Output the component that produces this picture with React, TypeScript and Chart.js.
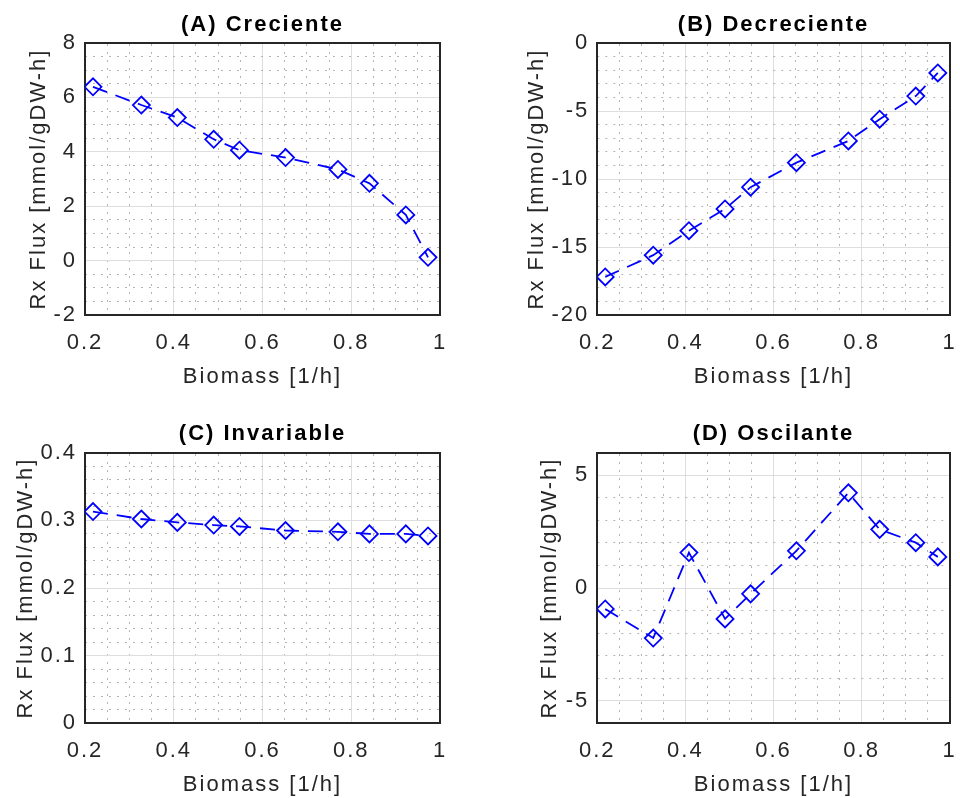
import React, { useEffect, useRef } from "react";
import { Chart, registerables } from "chart.js";

Chart.register(...registerables);

// ---------------- data ----------------
const biomass = [0.218, 0.327, 0.408, 0.49, 0.548, 0.652, 0.77, 0.841, 0.923, 0.973];
const fluxCreciente = [6.39, 5.72, 5.26, 4.46, 4.06, 3.79, 3.35, 2.84, 1.68, 0.12];
const fluxDecreciente = [-17.2, -15.6, -13.8, -12.2, -10.6, -8.8, -7.2, -5.6, -3.9, -2.2];
const fluxInvariable = [0.313, 0.302, 0.297, 0.293, 0.291, 0.285, 0.283, 0.28, 0.28, 0.277];
const fluxOscilante = [-0.93, -2.22, 1.57, -1.37, -0.26, 1.65, 4.22, 2.6, 2.01, 1.38];

const panelTitles = ["(A) Creciente", "(B) Decreciente", "(C) Invariable", "(D) Oscilante"];
const xTitle = "Biomass [1/h]";
const yTitle = "Rx Flux [mmol/gDW-h]";

const xRange = [0.2, 1];
const xTicks = [0.2, 0.4, 0.6, 0.8, 1];
const xMinorStep = 0.05;

const yRangeA = [-2, 8];
const yTicksA = [-2, 0, 2, 4, 6, 8];
const yMinorA = 0.5;
const yRangeB = [-20, 0];
const yTicksB = [-20, -15, -10, -5, 0];
const yMinorB = 1;
const yRangeC = [0, 0.4];
const yTicksC = [0, 0.1, 0.2, 0.3, 0.4];
const yMinorC = 0.02;
const yRangeD = [-6, 6];
const yTicksD = [-5, 0, 5];
const yMinorD = 1;

// ---------------- style ----------------
const FONT = '"Liberation Sans", Arial, Helvetica, sans-serif';
const FS = 22;
const LETTER_SPACING = "2px";
const AXIS_COLOR = "#262626";
const MAJOR_GRID = "#dedede";
const MINOR_GRID = "#b4b4b4";
const LINE_BLUE = "#0000ff";

type Layout = {
  left: number; top: number; w: number; h: number;
  padRight: number; yWidth: number; xHeight: number;
  titleTop: number; titleBottom: number;
  yTitlePad: number; xTitlePadBottom: number;
};

const layouts: Layout[] = [
  { left: 0, top: 0, w: 480, h: 400, padRight: 40, yWidth: 85, xHeight: 85, titleTop: 11.8, titleBottom: 4.8, yTitlePad: 25.3, xTitlePadBottom: 9.8 },
  { left: 480, top: 0, w: 480, h: 400, padRight: 8.3, yWidth: 117.3, xHeight: 85, titleTop: 11.8, titleBottom: 4.8, yTitlePad: 43.5, xTitlePadBottom: 9.8 },
  { left: 0, top: 400, w: 480, h: 398, padRight: 40, yWidth: 85, xHeight: 74.7, titleTop: 20.3, titleBottom: 6, yTitlePad: 12.5, xTitlePadBottom: 0 },
  { left: 480, top: 400, w: 480, h: 398, padRight: 8.3, yWidth: 117.3, xHeight: 74.7, titleTop: 20.3, titleBottom: 6, yTitlePad: 56.8, xTitlePadBottom: 0 },
];

type Spec = {
  title: string;
  values: number[];
  yRange: number[];
  yTicks: number[];
  yMinor: number;
  layout: Layout;
};

const specs: Spec[] = [
  { title: panelTitles[0], values: fluxCreciente, yRange: yRangeA, yTicks: yTicksA, yMinor: yMinorA, layout: layouts[0] },
  { title: panelTitles[1], values: fluxDecreciente, yRange: yRangeB, yTicks: yTicksB, yMinor: yMinorB, layout: layouts[1] },
  { title: panelTitles[2], values: fluxInvariable, yRange: yRangeC, yTicks: yTicksC, yMinor: yMinorC, layout: layouts[2] },
  { title: panelTitles[3], values: fluxOscilante, yRange: yRangeD, yTicks: yTicksD, yMinor: yMinorD, layout: layouts[3] },
];

const spacingPlugin = {
  id: "letterSpacing",
  beforeDraw(chart: any) {
    try {
      chart.ctx.letterSpacing = LETTER_SPACING;
    } catch (e) {}
  },
};

function isOnList(v: number | undefined, list: number[]) {
  if (v === undefined || v === null) return false;
  return list.some((t) => Math.abs(t - v) < 1e-9);
}

const fmt = (v: number) => String(Math.round(v * 1000) / 1000);

function buildConfig(spec: Spec): any {
  const L = spec.layout;
  const tickFont = { family: FONT, size: FS, lineHeight: 1.2 };
  return {
    type: "line",
    data: {
      datasets: [
        {
          data: biomass.map((x, i) => ({ x, y: spec.values[i] })),
          borderColor: LINE_BLUE,
          borderWidth: 1.8,
          borderDash: [15, 9],
          pointStyle: "rectRot",
          pointRadius: 8.5,
          pointBorderWidth: 1.8,
          pointBorderColor: LINE_BLUE,
          pointBackgroundColor: "rgba(0,0,0,0)",
          fill: false,
          tension: 0,
        },
      ],
    },
    options: {
      responsive: false,
      animation: false,
      devicePixelRatio: 1,
      layout: { padding: { left: 0, right: L.padRight, top: 0, bottom: 0 } },
      plugins: {
        legend: { display: false },
        tooltip: { enabled: false },
        title: {
          display: true,
          text: spec.title,
          fullSize: false,
          color: "#000000",
          font: { family: FONT, size: FS, weight: "bold", lineHeight: 1.2 },
          padding: { top: L.titleTop, bottom: L.titleBottom },
        },
      },
      scales: {
        x: {
          type: "linear",
          axis: "x",
          position: "bottom",
          min: xRange[0],
          max: xRange[1],
          afterBuildTicks: (s: any) => {
            s.ticks = xTicks.map((v) => ({ value: v }));
          },
          ticks: {
            font: tickFont,
            color: AXIS_COLOR,
            padding: 14.3,
            autoSkip: false,
            maxRotation: 0,
            minRotation: 0,
            callback: (v: number) => fmt(v),
          },
          grid: { color: MAJOR_GRID, lineWidth: 1, drawTicks: false },
          border: { display: true, color: AXIS_COLOR, width: 2 },
          title: {
            display: true,
            text: xTitle,
            color: AXIS_COLOR,
            font: tickFont,
            padding: { top: 0, bottom: L.xTitlePadBottom },
          },
          afterFit: (s: any) => {
            s.height = L.xHeight;
            s.paddingLeft = 0;
            s.paddingRight = 0;
          },
        },
        xMinor: {
          type: "linear",
          axis: "x",
          position: "top",
          min: xRange[0],
          max: xRange[1],
          ticks: { display: false, stepSize: xMinorStep, maxTicksLimit: 1000 },
          grid: {
            drawTicks: false,
            lineWidth: 1,
            color: (c: any) => (isOnList(c.tick?.value, xTicks) ? "rgba(0,0,0,0)" : MINOR_GRID),
          },
          border: { display: true, color: AXIS_COLOR, width: 2, dash: [2, 6] },
          afterFit: (s: any) => {
            s.height = 0;
            s.paddingLeft = 0;
            s.paddingRight = 0;
          },
        },
        y: {
          type: "linear",
          axis: "y",
          position: "left",
          min: spec.yRange[0],
          max: spec.yRange[1],
          afterBuildTicks: (s: any) => {
            s.ticks = spec.yTicks.map((v) => ({ value: v }));
          },
          ticks: { font: tickFont, color: AXIS_COLOR, padding: 8, callback: (v: number) => fmt(v) },
          grid: { color: MAJOR_GRID, lineWidth: 1, drawTicks: false },
          border: { display: true, color: AXIS_COLOR, width: 2 },
          title: {
            display: true,
            text: yTitle,
            color: AXIS_COLOR,
            font: tickFont,
            padding: { top: L.yTitlePad, bottom: 0 },
          },
          afterFit: (s: any) => {
            s.width = L.yWidth;
            s.paddingTop = 0;
            s.paddingBottom = 0;
          },
        },
        yMinor: {
          type: "linear",
          axis: "y",
          position: "right",
          min: spec.yRange[0],
          max: spec.yRange[1],
          ticks: { display: false, stepSize: spec.yMinor, maxTicksLimit: 1000 },
          grid: {
            drawTicks: false,
            lineWidth: 1,
            color: (c: any) => (isOnList(c.tick?.value, spec.yTicks) ? "rgba(0,0,0,0)" : MINOR_GRID),
          },
          border: { display: true, color: AXIS_COLOR, width: 2, dash: [2, 6] },
          afterFit: (s: any) => {
            s.width = 0;
            s.paddingTop = 0;
            s.paddingBottom = 0;
          },
        },
      },
    },
    plugins: [spacingPlugin],
  };
}

function Panel({ spec }: { spec: Spec }) {
  const ref = useRef<HTMLCanvasElement>(null);
  useEffect(() => {
    const chart = new Chart(ref.current as HTMLCanvasElement, buildConfig(spec));
    return () => chart.destroy();
  }, [spec]);
  const L = spec.layout;
  return (
    <div style={{ position: "absolute", left: L.left, top: L.top, width: L.w, height: L.h }}>
      <canvas ref={ref} width={L.w} height={L.h} style={{ display: "block" }} />
    </div>
  );
}

export default function App() {
  return (
    <div style={{ position: "absolute", left: 0, top: 0, width: 960, height: 798, background: "#ffffff", overflow: "hidden" }}>
      {specs.map((s) => (
        <Panel key={s.title} spec={s} />
      ))}
    </div>
  );
}
